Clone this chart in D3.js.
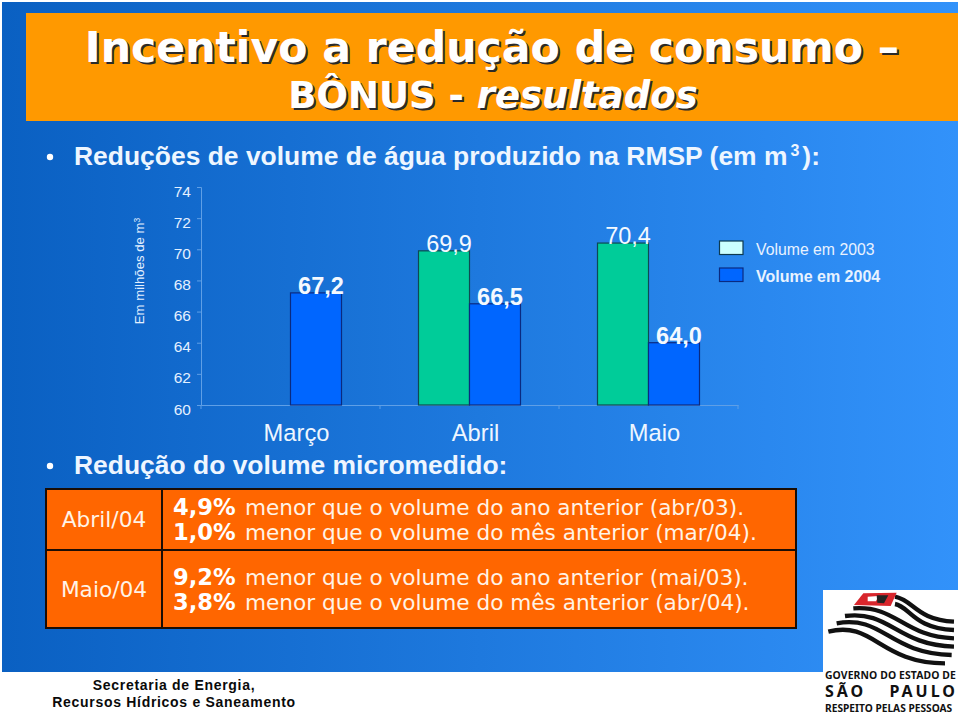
<!DOCTYPE html>
<html lang="pt"><head><meta charset="utf-8">
<script src="https://cdn.jsdelivr.net/npm/d3@7"></script>
<style>html,body{margin:0;padding:0;background:#fff}svg{display:block}</style></head>
<body><svg id="c" width="960" height="715"></svg>
<script>
const categories = ["Março", "Abril", "Maio"];
const seriesNames = ["Volume em 2003", "Volume em 2004"];
const volume2003 = [null, 69.9, 70.4];
const volume2004 = [67.2, 66.5, 64.0];
const labels2003 = [null, "69,9", "70,4"];
const labels2004 = ["67,2", "66,5", "64,0"];
const yTicks = [60, 62, 64, 66, 68, 70, 72, 74];
const tableRows = [
  {month: "Abril/04", lines: [["4,9%", "menor que o volume do ano anterior (abr/03)."], ["1,0%", "menor que o volume do mês anterior (mar/04)."]]},
  {month: "Maio/04", lines: [["9,2%", "menor que o volume do ano anterior (mai/03)."], ["3,8%", "menor que o volume do mês anterior (abr/04)."]]}
];
const logoStripes = [
  "M285,50 C340,60 350,120 462,125", "M285,72 C330,80 340,145 462,150",
  "M160,85 C290,75 310,170 462,175", "M135,108 C270,90 290,195 462,200",
  "M110,130 C250,105 265,220 455,225", "M85,155 C220,120 240,250 435,250"
];

const svg = d3.select("#c");
const SANS = "'Liberation Sans',Arial,sans-serif", VERD = "'DejaVu Sans',Verdana,sans-serif";
const defs = svg.append("defs");
const g = defs.append("linearGradient").attr("id", "bg").attr("x1", 0).attr("x2", 1).attr("y1", 0).attr("y2", 0);
g.append("stop").attr("offset", 0).attr("stop-color", "#0a60c2");
g.append("stop").attr("offset", 1).attr("stop-color", "#3292fa");

// slide
svg.append("rect").attr("x", 2).attr("y", 2).attr("width", 956).attr("height", 670).attr("fill", "url(#bg)");
svg.append("rect").attr("x", 26).attr("y", 13).attr("width", 932).attr("height", 108).attr("fill", "#ff9900");

// title
function titleText(x, y, size) {
  return svg.append("text").attr("x", x).attr("y", y).attr("text-anchor", "middle")
    .attr("font-family", VERD).attr("font-weight", "bold").attr("font-size", size).attr("fill", "#fff")
    .style("text-shadow", "2px 2px 0 #2a2a2a");
}
titleText(492, 62, 42.6).text("Incentivo a redução de consumo –");
const t2 = titleText(493, 108, 37);
t2.append("tspan").text("BÔNUS - ");
t2.append("tspan").attr("font-style", "italic").text("resultados");

// bullets
function bullet(y, build) {
  svg.append("circle").attr("cx", 50).attr("cy", y - 8).attr("r", 3.2).attr("fill", "#fff");
  const t = svg.append("text").attr("x", 74).attr("y", y).attr("font-family", SANS).attr("font-weight", "bold")
    .attr("font-size", 26.45).attr("fill", "#eef6ff");
  build(t);
}
bullet(165, t => {
  t.append("tspan").text("Reduções de volume de água produzido na RMSP (em m");
  t.append("tspan").attr("font-size", 16).attr("dx", 3).attr("dy", -9).text("3");
  t.append("tspan").attr("dx", 3).attr("dy", 9).text("):");
});
bullet(474, t => t.text("Redução do volume micromedido:"));

// chart
const x0 = d3.scaleBand().domain(categories).range([201, 738]);
const x1 = d3.scaleBand().domain(seriesNames).range([0, x0.bandwidth()]).paddingInner(0).paddingOuter(0.755);
const y = d3.scaleLinear().domain([60, 74]).range([405, 187]);
const axisColor = "#5f9fe6";

const ay = svg.append("g").attr("transform", "translate(201,0)")
  .call(d3.axisLeft(y).tickValues(yTicks).tickSize(4).tickPadding(6));
ay.select(".domain").attr("stroke", axisColor);
ay.selectAll("line").attr("stroke", axisColor);
ay.selectAll("text").attr("font-family", SANS).attr("font-size", 15.5).attr("fill", "#e4f0ff").attr("dy", 9);

const ax = svg.append("g").attr("transform", "translate(0,405)")
  .call(d3.axisBottom(x0).tickValues([]).tickSizeOuter(0));
ax.select(".domain").attr("stroke", axisColor);
const boundaries = [...categories.map(c => x0(c)), x0.range()[1]];
svg.append("g").selectAll("line").data(boundaries).join("line")
  .attr("x1", d => d).attr("x2", d => d).attr("y1", 405).attr("y2", 409).attr("stroke", axisColor);

svg.append("g").selectAll("text").data(categories).join("text")
  .attr("x", d => x0(d) + x0.bandwidth() / 2 + 6).attr("y", 441).attr("text-anchor", "middle")
  .attr("font-family", SANS).attr("font-size", 23.7).attr("fill", "#eef6ff").text(d => d);

const bars = [
  {name: seriesNames[0], values: volume2003, labels: labels2003, fill: "#00cc99", stroke: "#0d4a52", weight: "normal"},
  {name: seriesNames[1], values: volume2004, labels: labels2004, fill: "#0066ff", stroke: "#0a2a80", weight: "bold"}
];
bars.forEach(s => {
  const pts = categories.map((c, i) => ({c, v: s.values[i], l: s.labels[i]})).filter(d => d.v !== null);
  svg.append("g").selectAll("rect").data(pts).join("rect")
    .attr("x", d => x0(d.c) + x1(s.name)).attr("width", x1.bandwidth())
    .attr("y", d => y(d.v)).attr("height", d => y(60) - y(d.v))
    .attr("fill", s.fill).attr("stroke", s.stroke).attr("stroke-width", 1.2);
});
bars.forEach(s => {
  const pts = categories.map((c, i) => ({c, v: s.values[i], l: s.labels[i]})).filter(d => d.v !== null);
  svg.append("g").selectAll("text").data(pts).join("text")
    .attr("x", d => x0(d.c) + x1(s.name) + x1.bandwidth() / 2 + 5).attr("y", d => y(d.v) + 1)
    .attr("text-anchor", "middle").attr("font-family", SANS).attr("font-size", 23.5)
    .attr("font-weight", s.weight).attr("fill", "#f4f9ff").text(d => d.l);
});

svg.append("text").attr("transform", "translate(144,271) rotate(-90)").attr("text-anchor", "middle")
  .attr("font-family", SANS).attr("font-size", 13.2).attr("fill", "#e4f0ff")
  .call(t => { t.append("tspan").text("Em milhões de m"); t.append("tspan").attr("font-size", 8.5).attr("dy", -4).text("3"); });

// legend
const legendFill = ["#ccffff", "#0066ff"], legendStroke = ["#0d3a50", "#0a2a80"], legendY = [241, 268];
seriesNames.forEach((n, i) => {
  svg.append("rect").attr("x", 719.5).attr("y", legendY[i]).attr("width", 23.5).attr("height", 13.5)
    .attr("fill", legendFill[i]).attr("stroke", legendStroke[i]).attr("stroke-width", 1.2);
  svg.append("text").attr("x", 756).attr("y", legendY[i] + 14).attr("font-family", SANS).attr("font-size", i ? 16 : 15.8)
    .attr("font-weight", i ? "bold" : "normal").attr("fill", "#e8f2ff").text(n);
});

// table
const baselines = [[515, 540], [585, 610]], monthBase = [527, 597];
svg.append("rect").attr("x", 46).attr("y", 489).attr("width", 750).attr("height", 139).attr("fill", "#ff6600");
svg.append("rect").attr("x", 46).attr("y", 489).attr("width", 750).attr("height", 139).attr("fill", "none").attr("stroke", "#1a0d05").attr("stroke-width", 2);
svg.append("line").attr("x1", 46).attr("x2", 796).attr("y1", 550).attr("y2", 550).attr("stroke", "#1a0d05").attr("stroke-width", 2);
svg.append("line").attr("x1", 162).attr("x2", 162).attr("y1", 489).attr("y2", 628).attr("stroke", "#1a0d05").attr("stroke-width", 2);
tableRows.forEach((r, i) => {
  svg.append("text").attr("x", 104).attr("y", monthBase[i]).attr("text-anchor", "middle").attr("font-family", VERD)
    .attr("font-size", 21.7).attr("fill", "#fff3e6").text(r.month);
  r.lines.forEach((l, j) => {
    const t = svg.append("text").attr("x", 173).attr("y", baselines[i][j]).attr("font-family", VERD)
      .attr("font-size", 21.6).attr("fill", "#fff3e6");
    t.append("tspan").attr("font-weight", "bold").attr("font-size", 22.6).attr("fill", "#fff").text(l[0]);
    t.append("tspan").attr("x", 245).text(l[1]);
  });
});

// footer
svg.append("g").selectAll("text").data([["Secretaria de Energia,", 174, 690], ["Recursos Hídricos e Saneamento", 174, 707]]).join("text")
  .attr("x", d => d[1]).attr("y", d => d[2]).attr("text-anchor", "middle").attr("font-family", SANS).attr("font-weight", "bold")
  .attr("font-size", 14).attr("letter-spacing", 0.7).attr("fill", "#0a0a0a").text(d => d[0]);

// logo
svg.append("rect").attr("x", 823).attr("y", 590).attr("width", 135).attr("height", 82).attr("fill", "#fff");
const logo = svg.append("g").attr("transform", "translate(800,580) scale(0.3333)");
logo.selectAll("path").data(logoStripes).join("path").attr("d", d => d).attr("fill", "none").attr("stroke", "#111").attr("stroke-width", 13);
logo.append("path").attr("d", "M190,40 L290,38 L272,78 L162,75 Z").attr("fill", "#d8262c");
logo.append("path").attr("d", "M203,50 L235,48 L228,64 L203,64 Z").attr("fill", "#fff");
logo.append("path").attr("d", "M230,46 L265,46 L252,70 L232,68 Z").attr("fill", "#222");
const logoText = [["GOVERNO DO ESTADO DE", 825, 679, 10.4, 0.1, "start"], ["SÃO", 825, 697, 16, 3, "start"], ["PAULO", 958, 697, 16, 3, "end"], ["RESPEITO PELAS PESSOAS", 825, 712, 10.2, 0, "start"]];
svg.append("g").selectAll("text").data(logoText).join("text")
  .attr("x", d => d[1]).attr("y", d => d[2]).attr("text-anchor", d => d[5]).attr("font-family", "'Noto Sans',sans-serif").attr("font-weight", "bold")
  .attr("font-size", d => d[3]).attr("letter-spacing", d => d[4]).attr("fill", "#111").text(d => d[0]);
</script></body></html>
